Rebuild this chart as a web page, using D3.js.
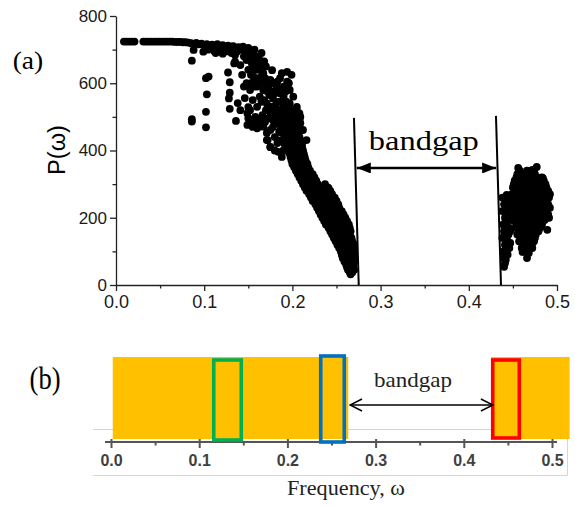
<!DOCTYPE html>
<html><head><meta charset="utf-8">
<script src="https://cdn.jsdelivr.net/npm/d3@7"></script>
<style>body{margin:0;background:#fff}svg{display:block}</style>
</head><body>
<svg id="c" width="575" height="507"></svg>
<script>
// ---------- data ----------
const freqTicks = [0, 0.1, 0.2, 0.3, 0.4, 0.5];
const freqMinor = [0.05, 0.15, 0.25, 0.35, 0.45];
const powerTicks = [0, 200, 400, 600, 800];
const powerMinor = [100, 300, 500, 700];

// P(omega) vs omega, points below the band gap
const lowBandPts = [
  [0.009,724],[0.012,724],[0.015,724],[0.018,724],[0.021,724],
  [0.031,724],[0.034,724],[0.037,724],[0.040,724],[0.043,724],[0.046,724],[0.049,724],[0.052,724],[0.055,724],
  [0.058,724],[0.061,724],[0.064,724],[0.067,723],[0.070,723],[0.073,723],[0.076,722],[0.079,722],[0.082,721],
  [0.085,719],[0.088,717],[0.091,720],[0.094,716],[0.097,718],[0.100,714],[0.103,716],[0.106,712],[0.109,715],
  [0.112,711],[0.115,716],[0.118,710],[0.121,713],[0.124,708],[0.127,712],[0.130,706],[0.133,710],[0.136,704],
  [0.139,707],[0.142,700],[0.145,703],
  [0.088,699],[0.099,694],[0.104,700],[0.108,705],[0.111,697],[0.113,690],[0.118,698],[0.121,688],[0.126,695],
  [0.131,690],[0.137,694],[0.135,684],[0.134,659],[0.086,667],
  [0.102,615],[0.105,620],[0.103,567],[0.102,515],[0.086,493],[0.086,486],[0.102,469],
  [0.127,632],[0.129,603],[0.129,572],[0.128,555],[0.129,524],[0.136,488],
  [0.120,704],[0.126,699],[0.131,709],[0.141,704],[0.144,709],[0.135,664],[0.141,654],[0.148,669],[0.154,659],
  [0.160,664],[0.156,644],[0.163,649],[0.153,690],[0.158,680],[0.162,675],[0.165,690],[0.168,665],[0.157,700],
  [0.150,705],[0.147,698],[0.150,685],[0.145,680],[0.155,672],
  [0.148,600],[0.152,580],[0.156,619],[0.167,630],[0.177,639],[0.194,634],[0.163,600],[0.175,610],[0.186,615],
  [0.194,605],[0.197,580],[0.163,560],[0.171,540],[0.178,555],[0.186,570],[0.190,530],[0.175,511],[0.167,580],
  [0.182,590],[0.160,530],[0.152,520],[0.156,481],[0.160,466],[0.167,471],[0.175,461],[0.182,481],[0.194,491],
  [0.190,451],[0.197,461],[0.209,500],[0.201,431],[0.209,411],[0.190,401],[0.175,411],[0.212,392],[0.216,362],
  [0.171,431],[0.205,530],[0.201,560],[0.212,461],[0.216,431],[0.182,520],[0.194,511],[0.209,481],
  [0.149,511],[0.150,496],[0.149,476],[0.155,470],[0.161,470],[0.171,452],[0.172,431],[0.175,410],[0.183,422],
  [0.184,396],[0.188,381],[0.138,541],[0.141,520],[0.150,529],[0.155,550],[0.146,556],
  [0.158,640],[0.165,620],[0.170,600],[0.172,575],[0.168,550],[0.180,570],[0.185,545],[0.190,560],[0.176,530],
  [0.188,500],[0.178,490],[0.166,505],[0.158,500],[0.192,470],[0.185,455],[0.180,440],[0.198,520],[0.203,470],
  [0.206,445],[0.196,600],[0.199,625],[0.188,630],[0.160,590],[0.145,590],[0.143,625],[0.150,640],
  [0.153,600],[0.157,590],[0.162,615],[0.169,615],[0.173,590],[0.178,600],[0.183,605],[0.190,590],[0.192,575],
  [0.185,580],[0.179,575],[0.174,565],[0.165,545],[0.170,520],[0.181,535],[0.187,520],[0.193,545],[0.197,540],
  [0.172,495],[0.179,505],[0.185,490],[0.163,490],[0.169,485],[0.196,450],[0.185,430],[0.178,470],[0.191,420],
  [0.180,400],[0.199,410],[0.196,395],[0.157,610],[0.153,625],[0.162,640],[0.170,650],[0.166,660],[0.159,655],
  [0.180,520],[0.186,520],[0.193,520],[0.199,520],[0.205,520],
  [0.182,510],[0.189,510],[0.196,510],[0.202,510],[0.208,510],
  [0.183,500],[0.190,500],[0.196,500],[0.203,500],
  [0.184,490],[0.191,490],[0.197,490],[0.203,490],[0.208,490],
  [0.185,480],[0.192,480],[0.198,480],[0.204,480],
  [0.187,470],[0.193,470],[0.199,470],[0.205,470],
  [0.188,460],[0.194,460],[0.200,460],[0.206,460],
  [0.190,450],[0.196,450],[0.202,450],[0.207,450],
  [0.191,440],[0.197,440],[0.203,440],[0.208,440],
  [0.192,430],[0.198,430],[0.204,430],[0.209,430],
  [0.194,420],[0.200,420],[0.206,420],[0.211,420],
  [0.194,410],[0.200,410],[0.206,410],[0.211,410],
  [0.195,400],[0.201,400],[0.207,400],[0.212,400],
  [0.197,390],[0.203,390],[0.209,390],[0.213,390],
  [0.198,380],[0.204,380],[0.210,380],[0.214,380],
  [0.199,370],[0.205,370],[0.211,370],[0.215,370],
  [0.200,360],[0.206,360],[0.212,360],[0.217,360],
  [0.202,350],[0.208,350],[0.214,350],[0.218,350],
  [0.204,340],[0.210,340],[0.216,340],[0.220,340],
  [0.206,330],[0.212,330],[0.218,330],[0.223,330],
  [0.208,320],[0.214,320],[0.220,320],[0.225,320],
  [0.210,310],[0.216,310],[0.222,310],[0.227,310],
  [0.212,300],[0.218,300],[0.224,300],[0.229,300],[0.237,300],
  [0.214,290],[0.220,290],[0.226,290],[0.231,290],[0.236,290],[0.240,290],
  [0.216,280],[0.222,280],[0.228,280],[0.234,280],[0.241,288],[0.243,280],
  [0.219,270],[0.225,270],[0.231,270],[0.236,270],[0.240,270],[0.245,270],
  [0.221,260],[0.227,260],[0.233,260],[0.239,260],[0.248,260],
  [0.223,250],[0.229,250],[0.235,250],[0.241,250],[0.244,250],[0.250,250],
  [0.226,240],[0.232,240],[0.238,240],[0.243,240],[0.247,240],[0.252,240],
  [0.228,230],[0.234,230],[0.240,230],[0.245,230],[0.253,230],
  [0.230,220],[0.236,220],[0.242,220],[0.247,220],[0.250,225],[0.256,220],
  [0.232,210],[0.238,210],[0.244,210],[0.249,210],[0.258,210],
  [0.234,200],[0.240,200],[0.246,200],[0.251,200],[0.254,205],[0.260,200],
  [0.236,190],[0.242,190],[0.248,190],[0.253,190],[0.257,195],[0.262,190],
  [0.238,180],[0.244,180],[0.250,180],[0.255,180],[0.264,180],
  [0.241,170],[0.247,170],[0.252,170],[0.257,170],[0.260,175],[0.265,170],
  [0.243,160],[0.249,160],[0.254,160],[0.259,160],[0.266,160],
  [0.245,150],[0.250,150],[0.255,150],[0.260,150],[0.265,150],
  [0.247,140],[0.252,140],[0.257,140],[0.262,140],[0.267,140],
  [0.249,130],[0.254,130],[0.259,130],[0.264,130],[0.268,130],
  [0.251,120],[0.256,120],[0.261,120],[0.266,120],[0.270,120],
  [0.253,110],[0.258,110],[0.263,110],[0.267,110],[0.270,110],
  [0.255,100],[0.260,100],[0.264,100],[0.269,100],
  [0.256,90],[0.261,90],[0.265,90],[0.269,90],
  [0.257,80],[0.262,80],[0.266,80],[0.270,80],
  [0.259,70],[0.263,70],[0.267,70],[0.270,70],
  [0.261,60],[0.265,60],[0.269,60],
  [0.262,52],[0.266,52],[0.269,52],
  [0.263,45],[0.267,45],[0.270,45],
  [0.265,38],[0.268,38],
  [0.266,32]
];

// P(omega) vs omega, points above the band gap
const highBandPts = [
  [0.438,260],[0.440,240],[0.438,220],[0.441,200],[0.439,180],[0.440,160],[0.438,140],[0.441,120],[0.439,100],
  [0.440,80],[0.441,65],[0.440,54],
  [0.443,268],[0.444,250],[0.445,230],[0.446,210],[0.444,190],[0.446,170],[0.445,150],[0.444,130],[0.446,110],[0.444,90],
  [0.442,255],[0.442,235],[0.443,215],[0.442,195],[0.443,175],[0.442,155],[0.443,135],[0.442,115],[0.443,95],[0.442,75],
  [0.447,240],[0.447,200],[0.447,160],[0.447,125],
  [0.456,348],[0.477,351],[0.472,342],[0.484,318],
  [0.458,340],[0.466,340],[0.474,340],
  [0.455,330],[0.460,330],[0.470,330],[0.475,330],
  [0.454,320],[0.462,320],[0.466,320],[0.472,320],[0.478,320],[0.483,320],
  [0.452,310],[0.458,310],[0.463,310],[0.468,310],[0.474,310],[0.480,310],[0.485,310],
  [0.451,300],[0.460,300],[0.465,300],[0.471,300],[0.476,300],[0.482,300],[0.487,300],
  [0.450,290],[0.456,290],[0.462,290],[0.467,290],[0.473,290],[0.478,290],[0.484,290],[0.488,290],
  [0.452,280],[0.458,280],[0.464,280],[0.469,280],[0.475,280],[0.480,280],[0.486,280],[0.490,280],
  [0.449,270],[0.455,270],[0.461,270],[0.466,270],[0.471,270],[0.476,270],[0.482,270],[0.487,270],[0.492,270],
  [0.453,260],[0.459,260],[0.465,260],[0.470,260],[0.475,260],[0.481,260],[0.487,260],[0.491,260],
  [0.450,250],[0.457,250],[0.463,250],[0.468,250],[0.473,250],[0.479,250],[0.485,250],[0.489,250],
  [0.453,240],[0.459,240],[0.465,240],[0.470,240],[0.475,240],[0.481,240],[0.486,240],[0.490,240],
  [0.451,230],[0.456,230],[0.462,230],[0.467,230],[0.472,230],[0.477,230],[0.483,230],[0.488,230],[0.492,230],
  [0.454,220],[0.460,220],[0.466,220],[0.471,220],[0.477,220],[0.483,220],[0.488,220],
  [0.452,210],[0.458,210],[0.463,210],[0.469,210],[0.474,210],[0.480,210],[0.486,210],[0.490,210],
  [0.454,200],[0.460,200],[0.466,200],[0.471,200],[0.476,200],[0.482,200],[0.488,200],
  [0.451,190],[0.457,190],[0.462,190],[0.468,190],[0.473,190],[0.479,190],[0.484,190],[0.486,193],[0.491,200],
  [0.455,180],[0.461,180],[0.467,180],[0.472,180],[0.478,180],[0.483,180],
  [0.453,170],[0.458,170],[0.464,170],[0.470,170],[0.475,170],[0.481,170],[0.489,164],
  [0.457,160],[0.463,160],[0.468,160],[0.473,160],[0.479,160],
  [0.455,150],[0.461,150],[0.466,150],[0.471,150],[0.476,150],
  [0.459,140],[0.465,140],[0.470,140],[0.475,140],
  [0.457,130],[0.463,130],[0.469,130],[0.474,130],[0.472,125],
  [0.461,120],[0.467,120],[0.471,120],
  [0.460,110],[0.466,110],[0.472,110],
  [0.461,98],[0.468,95],[0.466,80]
];

// band gap edges in panel (a): [omega top, P top, omega bottom, P bottom]
const gapEdges = [[0.2698, 497, 0.2752, 0], [0.4308, 503, 0.4365, 0]];
const gapArrowA = [0.273, 0.431];
const gapArrowAP = 348;
const gapLabelA = [0.349, 401];

// panel (b): pass bands and highlighted modes
const passBands = [[0.002, 0.269], [0.431, 0.520]];
const modeBoxes = [[0.1165, 0.1477], [0.2378, 0.2645], [0.4328, 0.4629]];
const modeColors = ["#00B050", "#0070C0", "#FF0000"];
const gapArrowB = [0.271, 0.433];

// ---------- drawing ----------
const svg = d3.select("#c");
const SANS = "'Liberation Sans', Arial, sans-serif";
const SERIF = "'Liberation Serif', 'Times New Roman', serif";

// Panel (a)
const xA = d3.scaleLinear().domain([0, 0.5]).range([116, 557]);
const yA = d3.scaleLinear().domain([0, 800]).range([285, 16]);

const gA = svg.append("g");
gA.append("g").selectAll("circle").data(lowBandPts.concat(highBandPts)).join("circle")
  .attr("cx", d => xA(d[0])).attr("cy", d => yA(d[1])).attr("r", 3.9).attr("fill", "#000");

// axes
const yAx = gA.append("g").attr("transform", `translate(${xA(0)},0)`)
  .call(d3.axisLeft(yA).tickValues(powerTicks).tickSize(6).tickSizeOuter(0).tickPadding(3));
yAx.selectAll("text").attr("font-family", SANS).attr("font-size", 17).attr("fill", "#1a1a1a");
gA.append("g").attr("transform", `translate(${xA(0)},0)`)
  .call(d3.axisLeft(yA).tickValues(powerMinor).tickSize(3.5).tickSizeOuter(0).tickFormat(""))
  .select(".domain").remove();

const xAx = gA.append("g").attr("transform", `translate(0,${yA(0)})`)
  .call(d3.axisBottom(xA).tickValues(freqTicks).tickFormat(d3.format(".1f")).tickSize(6).tickSizeOuter(0).tickPadding(4));
xAx.selectAll("text").attr("font-family", SANS).attr("font-size", 18).attr("fill", "#1a1a1a");
gA.append("g").attr("transform", `translate(0,${yA(0)})`)
  .call(d3.axisBottom(xA).tickValues(freqMinor).tickSize(3.5).tickSizeOuter(0).tickFormat(""))
  .select(".domain").remove();
gA.selectAll(".domain, .tick line").attr("stroke", "#222").attr("stroke-width", 1.3);

// band gap edges and arrow
gA.append("g").selectAll("line").data(gapEdges).join("line")
  .attr("x1", d => xA(d[0])).attr("y1", d => yA(d[1]))
  .attr("x2", d => xA(d[2])).attr("y2", d => yA(d[3]))
  .attr("stroke", "#000").attr("stroke-width", 2);

const defs = svg.append("defs");
defs.append("marker").attr("id", "tri").attr("viewBox", "0 0 14 11")
  .attr("refX", 14).attr("refY", 5.5).attr("markerWidth", 14).attr("markerHeight", 11)
  .attr("markerUnits", "userSpaceOnUse").attr("orient", "auto-start-reverse")
  .append("path").attr("d", "M0,0 L14,5.5 L0,11 Z").attr("fill", "#000");
defs.append("marker").attr("id", "chev").attr("viewBox", "0 0 14 14")
  .attr("refX", 13).attr("refY", 7).attr("markerWidth", 14).attr("markerHeight", 14)
  .attr("markerUnits", "userSpaceOnUse").attr("orient", "auto-start-reverse")
  .append("path").attr("d", "M1,1 L13,7 L1,13").attr("fill", "none").attr("stroke", "#000").attr("stroke-width", 1.4);

gA.append("line")
  .attr("x1", xA(gapArrowA[0])).attr("x2", xA(gapArrowA[1]))
  .attr("y1", yA(gapArrowAP)).attr("y2", yA(gapArrowAP))
  .attr("stroke", "#000").attr("stroke-width", 2.6)
  .attr("marker-start", "url(#tri)").attr("marker-end", "url(#tri)");

gA.append("text").attr("x", xA(gapLabelA[0])).attr("y", yA(gapLabelA[1]))
  .attr("text-anchor", "middle").attr("font-family", SERIF).attr("font-size", 27)
  .attr("textLength", 110).attr("lengthAdjust", "spacingAndGlyphs").text("bandgap");

gA.append("text").attr("transform", "translate(65,150) rotate(-90)")
  .attr("text-anchor", "middle").attr("font-family", SANS).attr("font-size", 23)
  .attr("textLength", 50).attr("lengthAdjust", "spacingAndGlyphs").text("P(ω)");

svg.append("text").attr("x", 12.7).attr("y", 68.5).attr("font-family", SERIF).attr("font-size", 25)
  .attr("textLength", 30.6).attr("lengthAdjust", "spacingAndGlyphs").text("(a)");

// Panel (b)
const xB = d3.scaleLinear().domain([0, 0.5]).range([111, 552]);
const gB = svg.append("g");

// faint frame of the pasted figure
const frame = gB.append("g").attr("stroke", "#d6d6d6").attr("stroke-width", 1).attr("fill", "none");
frame.append("path").attr("d", "M93,429.5 H567.5 V475.5 H93");

gB.append("g").selectAll("rect").data(passBands).join("rect")
  .attr("x", d => xB(d[0])).attr("width", d => xB(d[1]) - xB(d[0]))
  .attr("y", 357).attr("height", 82).attr("fill", "#FFC000");

// axis
const xBx = gB.append("g").attr("transform", "translate(0,442)")
  .call(d3.axisBottom(xB).tickValues(freqTicks).tickFormat(d3.format(".1f")).tickSize(6).tickSizeOuter(0).tickPadding(7));
xBx.select(".domain").attr("d", `M${xB(0) - 6},0 H${xB(0.5) + 5}`);
xBx.selectAll(".tick line").attr("y1", -3);
xBx.selectAll("text").attr("font-family", SANS).attr("font-size", 16).attr("font-weight", "bold").attr("fill", "#404040");
gB.append("g").attr("transform", "translate(0,442)")
  .call(d3.axisBottom(xB).tickValues(freqMinor).tickSize(3.5).tickSizeOuter(0).tickFormat(""))
  .select(".domain").remove();
gB.selectAll(".domain, .tick line").attr("stroke", "#555").attr("stroke-width", 2);

// mode boxes
const boxY = [[360, 80], [356, 86], [360, 78]];
gB.append("g").selectAll("rect").data(modeBoxes).join("rect")
  .attr("x", d => xB(d[0])).attr("width", d => xB(d[1]) - xB(d[0]))
  .attr("y", (d, i) => boxY[i][0]).attr("height", (d, i) => boxY[i][1])
  .attr("fill", "none").attr("stroke", (d, i) => modeColors[i]).attr("stroke-width", 3.6);

gB.append("line")
  .attr("x1", xB(gapArrowB[0])).attr("x2", xB(gapArrowB[1]))
  .attr("y1", 405).attr("y2", 405)
  .attr("stroke", "#000").attr("stroke-width", 1.4)
  .attr("marker-start", "url(#chev)").attr("marker-end", "url(#chev)");

gB.append("text").attr("x", 413).attr("y", 387).attr("text-anchor", "middle")
  .attr("font-family", SERIF).attr("font-size", 22).attr("fill", "#222")
  .attr("textLength", 78).attr("lengthAdjust", "spacingAndGlyphs").text("bandgap");

gB.append("text").attr("x", 346).attr("y", 495).attr("text-anchor", "middle")
  .attr("font-family", SERIF).attr("font-size", 22).attr("fill", "#222")
  .attr("textLength", 118).attr("lengthAdjust", "spacingAndGlyphs").text("Frequency, ω");

svg.append("text").attr("x", 29.6).attr("y", 389).attr("font-family", SERIF).attr("font-size", 31)
  .attr("textLength", 31).attr("lengthAdjust", "spacingAndGlyphs").text("(b)");
</script>
</body></html>
